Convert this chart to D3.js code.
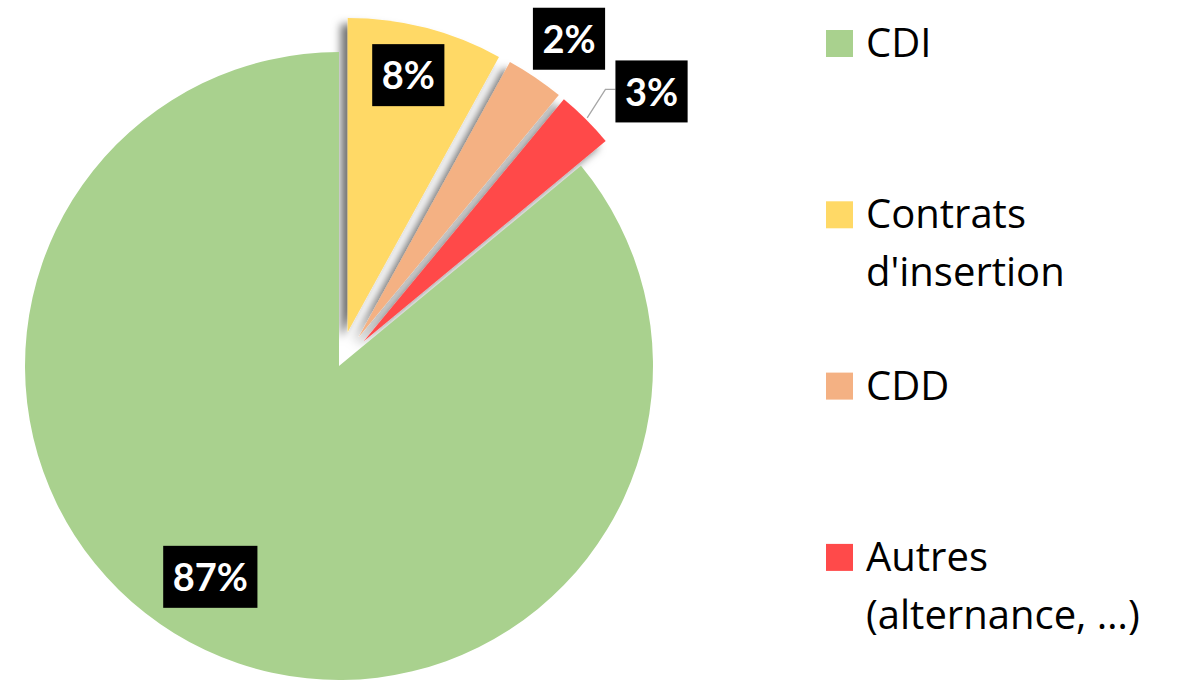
<!DOCTYPE html>
<html><head><meta charset="utf-8">
<script src="https://cdn.jsdelivr.net/npm/d3@7"></script>
<style>html,body{margin:0;background:#fff}svg{display:block}text{font-variant-ligatures:none}</style>
</head><body>
<svg id="chart" width="1187" height="681"></svg>
<script>
// ---- data ----
const categories = ["CDI", "Contrats d'insertion", "CDD", "Autres (alternance, …)"];
const legendLines = [["CDI"], ["Contrats", "d'insertion"], ["CDD"], ["Autres", "(alternance, …)"]];
const values = [86.0, 8.0, 3.0, 3.0];          // shares
const valueLabels = ["87%", "8%", "2%", "3%"]; // data labels as printed
const colors = ["#a9d18e", "#ffd966", "#f4b183", "#ff4a4a"];

// ---- layout ----
const W = 1187, H = 681;
const cx = 339, cy = 366, R = 314;
const exploded = [false, true, true, true];
const explode = 35;
const labelPolar = [[247, 6.2], [299, -1.0], [400, 0.9], [416, 3.7]]; // radius, angle nudge (deg)
const leader = [false, false, false, true];
const labelFont = 38, legendFont = 40;

const svg = d3.select("#chart");
const defs = svg.append("defs");
const f = defs.append("filter").attr("id", "sh").attr("x", "-30%").attr("y", "-30%").attr("width", "160%").attr("height", "160%");
f.append("feDropShadow").attr("dx", -7).attr("dy", 6).attr("stdDeviation", 4)
  .attr("flood-color", "#000").attr("flood-opacity", 0.55);

const total = d3.sum(values);
const a0 = 2 * Math.PI * (1 - values[0] / total);
const pie = d3.pie().sort(null).value(d => d).startAngle(a0).endAngle(a0 + 2 * Math.PI);
const arcs = pie(values);
const arc = d3.arc().innerRadius(0).outerRadius(R);

const g = svg.append("g").attr("transform", `translate(${cx},${cy})`);
const off = d => {
  const m = (d.startAngle + d.endAngle) / 2;
  const e = exploded[d.index] ? explode : 0;
  return [e * Math.sin(m), -e * Math.cos(m)];
};

// exploded slices with shadow first
g.append("g").attr("filter", "url(#sh)")
  .selectAll("path").data(arcs.filter(d => exploded[d.index])).join("path")
  .attr("d", arc).attr("fill", d => colors[d.index])
  .attr("transform", d => `translate(${off(d)})`);
// main slice on top
g.append("g").selectAll("path").data(arcs.filter(d => !exploded[d.index])).join("path")
  .attr("d", arc).attr("fill", d => colors[d.index]);

const polar = (r, a) => [r * Math.sin(a), -r * Math.cos(a)];
const labelPos = d => {
  const m = (d.startAngle + d.endAngle) / 2 + labelPolar[d.index][1] * Math.PI / 180;
  return polar(labelPolar[d.index][0], m);
};

// labels
const lg = g.append("g");
arcs.forEach(d => {
  const [lx, ly] = labelPos(d);
  const grp = lg.append("g");
  const t = grp.append("text").attr("x", lx).attr("y", ly + labelFont * 0.37)
    .attr("text-anchor", "middle").attr("fill", "#fff")
    .attr("font-family", "Lato, 'Open Sans', sans-serif").attr("font-weight", 700)
    .attr("font-size", labelFont).text(valueLabels[d.index]);
  const bb = t.node().getBBox();
  const bw = bb.width + 19, bh = 62;
  grp.insert("rect", "text").attr("x", lx - bw / 2).attr("y", ly - bh / 2)
    .attr("width", bw).attr("height", bh).attr("fill", "#000");
  if (leader[d.index]) {
    const m = (d.startAngle + d.endAngle) / 2;
    const [sx, sy] = polar(R + explode + 2, m);
    const ex = lx - bw / 2;
    g.insert("path", "g").attr("d", `M${sx},${sy}L${ex - 10},${ly - 2}L${ex},${ly - 2}`)
      .attr("fill", "none").attr("stroke", "#a6a6a6").attr("stroke-width", 1.3);
  }
});

// legend
const legX = 826, legY0 = 30, legStep = 171.3, sq = 27, txtX = 866, lineH = 58;
const leg = svg.append("g");
categories.forEach((c, i) => {
  const y = legY0 + i * legStep;
  leg.append("rect").attr("x", legX).attr("y", y).attr("width", sq).attr("height", sq).attr("fill", colors[i]);
  const t = leg.append("text").attr("font-family", "'Open Sans', Lato, sans-serif")
    .attr("font-size", legendFont).attr("fill", "#000");
  legendLines[i].forEach((ln, j) => {
    t.append("tspan").attr("x", txtX).attr("y", y + sq + j * lineH).text(ln);
  });
});
</script>
</body></html>
